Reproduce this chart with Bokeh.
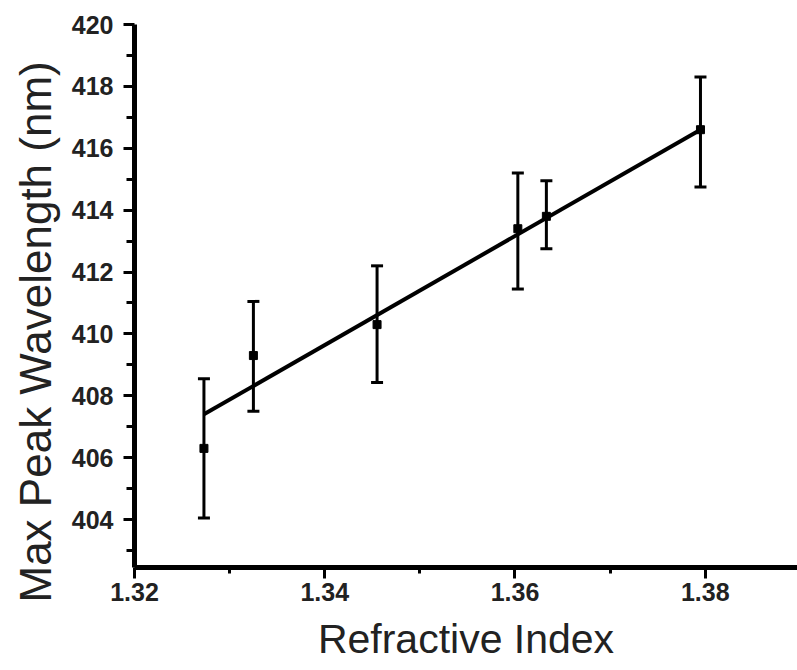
from bokeh.plotting import figure
from bokeh.models import ColumnDataSource, Whisker, TeeHead, Range1d, FixedTicker, Title
from bokeh.embed import file_html
from bokeh.resources import INLINE

# Data
refractive_index = [1.3273, 1.3325, 1.3455, 1.3603, 1.3633, 1.3795]
peak_wavelength = [406.3, 409.3, 410.3, 413.4, 413.8, 416.6]
err_upper = [408.55, 411.05, 412.2, 415.2, 414.95, 418.3]
err_lower = [404.05, 407.5, 408.43, 411.45, 412.75, 414.75]
fit_x = [1.3273, 1.3795]
fit_y = [407.4, 416.6]
x_major = [1.32, 1.34, 1.36, 1.38]
x_minor = [1.33, 1.35, 1.37]
y_major = [404, 406, 408, 410, 412, 414, 416, 418, 420]
y_minor = [403, 405, 407, 409, 411, 413, 415, 417, 419]
x_title = "Refractive Index"
y_title = "Max Peak Wavelength (nm)"

p = figure(width=797, height=670, output_backend="svg", toolbar_location=None,
           x_range=Range1d(1.32, 1.3897), y_range=Range1d(402.45, 420.0),
           min_border_left=134, min_border_right=0, min_border_top=24, min_border_bottom=103)
p.outline_line_color = None
p.grid.visible = False
p.background_fill_color = "white"
p.border_fill_color = "white"

src = ColumnDataSource(dict(x=refractive_index, y=peak_wavelength, upper=err_upper, lower=err_lower))

p.line(fit_x, fit_y, line_color="black", line_width=4)
w = Whisker(source=src, base="x", upper="upper", lower="lower", dimension="height",
            line_color="black", line_width=3,
            upper_head=TeeHead(size=12, line_width=3, line_color="black"),
            lower_head=TeeHead(size=12, line_width=3, line_color="black"))
p.add_layout(w)
p.scatter("x", "y", source=src, marker="square", size=8, color="black")

p.xaxis.ticker = FixedTicker(ticks=x_major, minor_ticks=x_minor)
p.yaxis.ticker = FixedTicker(ticks=y_major, minor_ticks=y_minor)
p.xaxis.major_label_overrides = {t: f"{t:.2f}" for t in x_major}

for ax in (p.xaxis[0], p.yaxis[0]):
    ax.axis_line_width = 5
    ax.axis_line_color = "black"
    ax.major_tick_line_width = 3
    ax.minor_tick_line_width = 3
    ax.major_tick_line_color = "black"
    ax.minor_tick_line_color = "black"
    ax.major_tick_in = 0
    ax.minor_tick_in = 0
    ax.major_label_text_font = "Liberation Sans"
    ax.major_label_text_font_style = "bold"
    ax.major_label_text_font_size = "25px"
    ax.major_label_text_color = "#222222"
    ax.axis_label_text_font = "Liberation Sans"
    ax.axis_label_text_font_style = "normal"
    ax.axis_label_text_font_size = "41px"
    ax.axis_label_text_color = "#222222"

p.yaxis.major_tick_out = 11
p.yaxis.minor_tick_out = 8
p.xaxis.major_tick_out = 11
p.xaxis.minor_tick_out = 6
p.yaxis.major_label_standoff = 10
p.xaxis.major_label_standoff = 4
p.xaxis.axis_label = x_title
p.xaxis.axis_label_standoff = 12

ytitle = Title(text=y_title, align="left", offset=-35, standoff=17,
               text_font="Liberation Sans", text_font_size="44px",
               text_font_style="normal", text_color="#222222")
p.add_layout(ytitle, "left")

open("out.html", "w").write(file_html(p, INLINE))
